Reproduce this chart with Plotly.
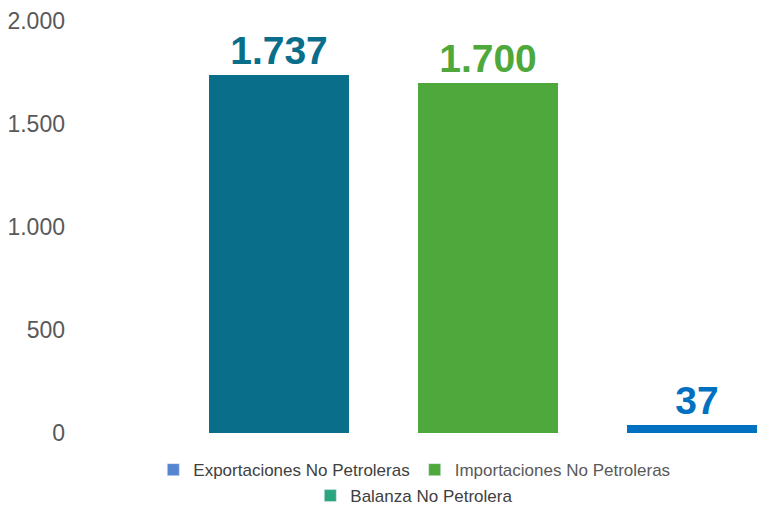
import plotly.graph_objects as go

categories = ["Exportaciones No Petroleras", "Importaciones No Petroleras", "Balanza No Petrolera"]
values = [1737, 1700, 37]
bar_colors = ["#086E8A", "#4EA83C", "#0070C0"]
legend_colors = ["#5585D0", "#4EA83C", "#2BA57F"]
legend_text_colors = ["#404040", "#595959", "#404040"]
tick_vals = [0, 500, 1000, 1500, 2000]

fig = go.Figure()
for i, (cat, val) in enumerate(zip(categories, values)):
    fig.add_trace(go.Bar(
        x=[i], y=[val], width=0.67,
        marker=dict(color=bar_colors[i], line=dict(width=0)),
        text=[val], texttemplate="%{y:,.0f}", textposition="outside",
        textfont=dict(family="Arial, Liberation Sans", size=39, color=bar_colors[i], weight="bold"),
        cliponaxis=False, showlegend=False, hoverinfo="skip",
    ))

for i, cat in enumerate(categories):
    fig.add_trace(go.Bar(
        x=[None], y=[None], name=f"<span style='color:{legend_text_colors[i]}'>{cat}</span>",
        marker=dict(color=legend_colors[i]),
        legend="legend" if i < 2 else "legend2",
        showlegend=True,
    ))

fig.update_layout(
    width=757, height=508,
    margin=dict(l=75, r=0, t=21, b=75, autoexpand=False),
    paper_bgcolor="white", plot_bgcolor="white",
    separators=",.",
    bargap=0, barmode="overlay",
    font=dict(family="Arial, Liberation Sans", color="#595959"),
    xaxis=dict(range=[-0.976, 2.287], showticklabels=False, showgrid=False, zeroline=False, showline=False, ticks=""),
    yaxis=dict(range=[0, 2000], tickvals=tick_vals, tickformat=",.0f", showgrid=False, zeroline=False,
               showline=False, tickfont=dict(size=23, color="#595959"), ticks="", automargin=False,
               ticklabelstandoff=9),
    legend=dict(orientation="h", x=0.4975, xanchor="center", y=-0.09, yanchor="middle",
                font=dict(size=17), bgcolor="rgba(0,0,0,0)"),
    legend2=dict(orientation="h", x=0.4975, xanchor="center", y=-0.153, yanchor="middle",
                 font=dict(size=17), bgcolor="rgba(0,0,0,0)"),
)

fig.write_html("out.html", config={"displayModeBar": False},
               post_script="document.body.style.margin='0';")
